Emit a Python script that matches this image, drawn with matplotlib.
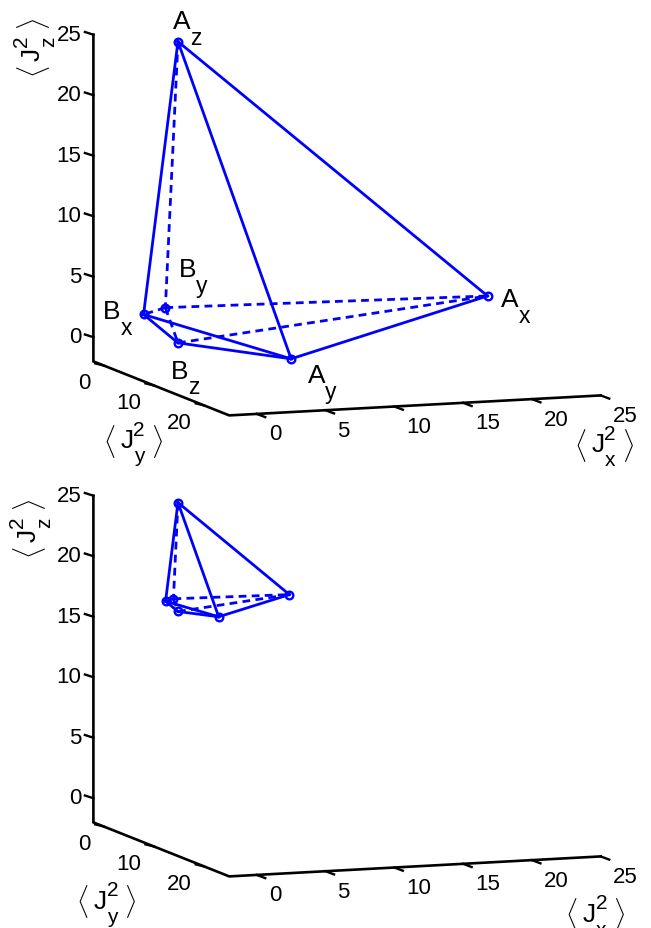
import matplotlib

matplotlib.use("Agg")
import matplotlib.pyplot as plt

plt.rcParams["font.family"] = ["Liberation Sans", "DejaVu Sans"]

names = ["Ax", "Ay", "Az", "Bx", "By", "Bz"]

# <Jx^2>, <Jy^2>, <Jz^2> of each vertex
top_jx = [25.0, 2.5, 2.5, 0.0, 2.5, 2.5]
top_jy = [2.5, 25.0, 2.5, 2.5, 0.0, 2.5]
top_jz = [2.5, 2.4, 24.9, 2.5, 2.5, 0.0]

bottom_jx = [10.6, 2.5, 2.5, 1.6, 2.5, 2.5]
bottom_jy = [2.5, 10.6, 2.5, 2.5, 1.6, 2.5]
bottom_jz = [16.8, 16.8, 24.9, 16.8, 16.8, 15.9]

solid_edges = [
    ("Az", "Ax"),
    ("Az", "Ay"),
    ("Az", "Bx"),
    ("Ax", "Ay"),
    ("Ay", "Bx"),
    ("Ay", "Bz"),
    ("Bx", "Bz"),
]
dashed_edges = [
    ("Az", "By"),
    ("By", "Ax"),
    ("By", "Bx"),
    ("By", "Bz"),
    ("Bz", "Ax"),
]

x_ticks = [0, 5, 10, 15, 20, 25]
y_ticks = [0, 10, 20]
z_ticks = [0, 5, 10, 15, 20, 25]
axis_min = -2
axis_max = 25

blue = "#0000ff"
size_tick = 16
size_main = 19
size_sub = 16.5
size_power = 15
size_bracket = 19


def project(jx, jy, jz, shift):
    # MATLAB style view of the box, in pixels of the figure
    u = 93.4 + (jx - axis_min) * 13.76 + (jy - axis_min) * 5.03
    v = (
        362.4
        - (jx - axis_min) * 0.74
        + (jy - axis_min) * 2.0
        - (jz - axis_min) * 12.1
    )
    return u, v + shift


def draw_axes(ax, shift):
    corner = project(axis_min, axis_min, axis_min, shift)
    front = project(axis_min, axis_max, axis_min, shift)
    end = project(axis_max, axis_max, axis_min, shift)
    top = project(axis_min, axis_min, axis_max, shift)
    ax.plot(
        [top[0], corner[0], front[0], end[0]],
        [top[1], corner[1], front[1], end[1]],
        color="k",
        lw=1.9,
        solid_joinstyle="miter",
    )

    for tick in x_ticks:
        u, v = project(tick, axis_max, axis_min, shift)
        ax.plot([u, u + 8.5], [v, v + 3.2], color="k", lw=1.7)
        ax.text(u + 12, v + 20, str(tick), fontsize=size_tick, ha="left", va="center")

    for tick in y_ticks:
        u, v = project(axis_min, tick, axis_min, shift)
        ax.plot([u, u - 8.3], [v, v - 2], color="k", lw=1.7)
        ax.text(u - 12.5, v + 17, str(tick), fontsize=size_tick, ha="right", va="center")

    for tick in z_ticks:
        u, v = project(axis_min, axis_min, tick, shift)
        ax.plot([u, u - 8.5], [v, v - 2.7], color="k", lw=1.7)
        ax.text(u - 12, v - 0.5, str(tick), fontsize=size_tick, ha="right", va="center")


def draw_polytope(ax, jx, jy, jz, shift):
    points = {}
    for n, name in enumerate(names):
        points[name] = project(jx[n], jy[n], jz[n], shift)

    for a, b in dashed_edges:
        ax.plot(
            [points[a][0], points[b][0]],
            [points[a][1], points[b][1]],
            color=blue,
            lw=2.0,
            dashes=(2.8, 1.9),
        )
    for a, b in solid_edges:
        ax.plot(
            [points[a][0], points[b][0]],
            [points[a][1], points[b][1]],
            color=blue,
            lw=2.0,
        )
    ax.plot(
        [points[name][0] for name in names],
        [points[name][1] for name in names],
        linestyle="none",
        marker="o",
        ms=5.5,
        mew=1.7,
        mfc="none",
        mec=blue,
    )


def vertex_label(ax, u, v, letter, sub):
    ax.text(u, v + 2, letter, fontsize=size_main, ha="center", va="center")
    ax.text(u + 14, v + 18, sub, fontsize=size_sub, ha="center", va="center")


def moment_label(ax, u, v, sub, rotated=False):
    # angle brackets, J, power and subscript placed round the J at (u, v)
    pieces = [
        (r"$\langle$", -17.5, 2, size_bracket),
        ("J", 0, 2, size_main),
        ("2", 12.3, -9, size_power),
        (sub, 12.3, 18, size_power),
        (r"$\rangle$", 30, 2, size_bracket),
    ]
    for text, du, dv, size in pieces:
        if rotated:
            ax.text(
                u + dv,
                v - du,
                text,
                fontsize=size,
                math_fontfamily="cm",
                rotation=90,
                ha="center",
                va="center",
            )
        else:
            ax.text(
                u + du,
                v + dv,
                text,
                fontsize=size,
                math_fontfamily="cm",
                ha="center",
                va="center",
            )


def main():
    fig = plt.figure(figsize=(6.51, 9.29), dpi=100)
    ax = fig.add_axes([0, 0, 1, 1])
    ax.set_xlim(0, 651)
    ax.set_ylim(929, 0)
    ax.axis("off")

    draw_axes(ax, 0)
    draw_polytope(ax, top_jx, top_jy, top_jz, 0)

    draw_axes(ax, 461)
    draw_polytope(ax, bottom_jx, bottom_jy, bottom_jz, 461)

    vertex_label(ax, 181.5, 20, "A", "z")
    vertex_label(ax, 510, 298, "A", "x")
    vertex_label(ax, 317, 374, "A", "y")
    vertex_label(ax, 112, 310, "B", "x")
    vertex_label(ax, 188, 268, "B", "y")
    vertex_label(ax, 180, 370, "B", "z")

    moment_label(ax, 31, 54, "z", rotated=True)
    moment_label(ax, 126.7, 439, "y")
    moment_label(ax, 597.7, 443, "x")

    moment_label(ax, 27, 535, "z", rotated=True)
    moment_label(ax, 100, 900, "y")
    moment_label(ax, 589, 913, "x")

    fig.savefig("out.png", dpi=100)


if __name__ == "__main__":
    main()
